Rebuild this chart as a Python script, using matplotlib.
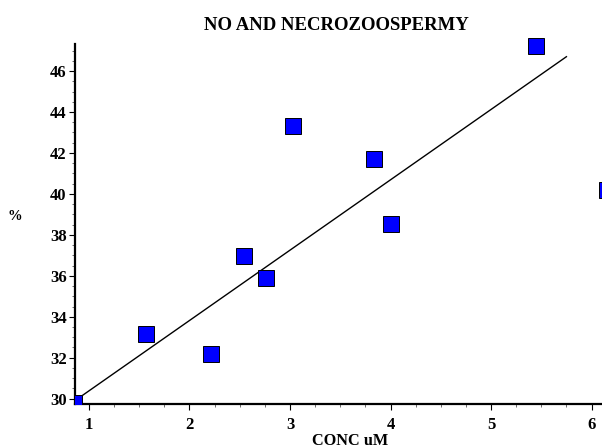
import matplotlib
matplotlib.use("Agg")
import matplotlib.pyplot as plt
from matplotlib.ticker import MultipleLocator

# data
conc = [0.856, 1.57, 2.21, 2.54, 2.76, 3.03, 3.84, 4.00, 5.45, 6.15]
pct = [29.81, 33.15, 32.16, 36.97, 35.89, 43.32, 41.72, 38.53, 47.23, 40.18]
fit_x = [0.88, 5.75]
fit_y = [29.97, 46.70]
title = "NO AND NECROZOOSPERMY"
xlabel = "CONC uM"
ylabel = "%"

plt.rcParams['font.family'] = ['Liberation Serif', 'DejaVu Serif']
plt.rcParams['font.weight'] = 'bold'

Y0, Y1, YTOP = 29.74, 47.32, 48.2
px_per_unit = 360 / (Y1 - Y0)
top_px = 44 - (YTOP - Y1) * px_per_unit

fig = plt.figure(figsize=(6.02, 4.48), dpi=100)
ax = fig.add_axes([75/602, 44/448, 1 - 75/602, (404 - top_px)/448])

ax.plot(fit_x, fit_y, color='black', lw=1.0, zorder=2)
ax.plot(conc, pct, linestyle='none', marker='s', markersize=12.2,
        markerfacecolor='#0000ff', markeredgecolor='black', markeredgewidth=0.7,
        zorder=3)

ax.set_xlim(0.861, 6.104)
ax.set_ylim(Y0, YTOP)

ax.spines['top'].set_visible(False)
ax.spines['right'].set_visible(False)
ax.spines['left'].set_linewidth(1.6)
ax.spines['bottom'].set_linewidth(1.6)
ax.spines['left'].set_bounds(Y0, Y1)

ax.xaxis.set_major_locator(MultipleLocator(1))
ax.xaxis.set_minor_locator(MultipleLocator(0.25))
ax.yaxis.set_major_locator(MultipleLocator(2))
ax.yaxis.set_minor_locator(MultipleLocator(0.5))
ax.set_yticks([y for y in [30 + 0.5 * i for i in range(36)] if y <= Y1], minor=True)
ax.set_yticks([30, 32, 34, 36, 38, 40, 42, 44, 46])
ax.tick_params(axis='both', which='major', length=4, width=0.8, labelsize=12)
ax.tick_params(axis='both', which='minor', length=2.5, width=0.6, color='#555555')
ax.tick_params(axis='x', which='major', pad=5)
ax.tick_params(axis='y', which='major', pad=2)
for lab in ax.get_xticklabels() + ax.get_yticklabels():
    lab.set_fontweight('bold')

fig.text(336/602, 1 - 25/448, title, ha='center', va='center',
         fontsize=13.5, fontweight='bold')
fig.text(350/602, 1 - 441/448, xlabel, ha='center', va='center',
         fontsize=11.7, fontweight='bold')
fig.text(15/602, 1 - 216/448, ylabel, ha='center', va='center',
         fontsize=10.5, fontweight='bold')

fig.savefig("out.png", dpi=100)
